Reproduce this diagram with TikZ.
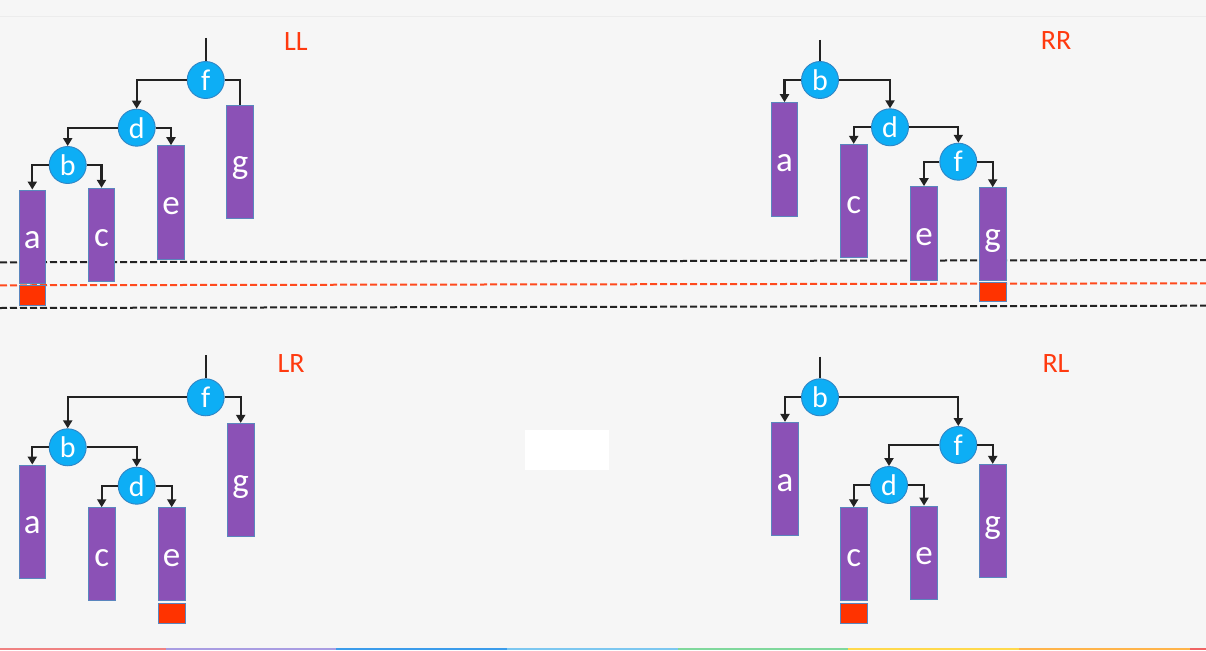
\documentclass[tikz,border=0pt]{standalone}
\usepackage{fontspec}
\setmainfont{Carlito}
\usetikzlibrary{arrows.meta}
\definecolor{bgc}{HTML}{F6F6F6}
\definecolor{topline}{HTML}{ECECEC}
\definecolor{nodeblue}{HTML}{0DAEF5}
\definecolor{nodeborder}{HTML}{2F86C6}
\definecolor{leafpurple}{HTML}{8B51B6}
\definecolor{leafborder}{HTML}{5A86BE}
\definecolor{redbox}{HTML}{FF3300}
\definecolor{labelred}{HTML}{FF3A0F}
\definecolor{dashred}{HTML}{FF4A1E}
\definecolor{edgec}{HTML}{222222}
\definecolor{s1}{HTML}{F08282}
\definecolor{s2}{HTML}{A99DE2}
\definecolor{s3}{HTML}{3C9CEB}
\definecolor{s4}{HTML}{7CC7F0}
\definecolor{s5}{HTML}{80D89C}
\definecolor{s6}{HTML}{FFD94C}
\definecolor{s7}{HTML}{FFB44A}
\definecolor{s8}{HTML}{F06464}
\tikzset{
  inode/.style={circle, fill=nodeblue, draw=nodeborder, line width=0.9pt, minimum size=37pt, inner sep=0pt, text=white, font=\fontsize{30}{30}\selectfont},
  leaf/.style={rectangle, fill=leafpurple, draw=leafborder, line width=0.9pt, minimum width=26.7pt, inner sep=0pt, text=white, text height=24pt, text depth=0pt, font=\fontsize{35}{35}\selectfont},
  tallleaf/.style={leaf, minimum height=113.3pt},
  shortleaf/.style={leaf, minimum height=93pt},
  redsq/.style={rectangle, fill=redbox, draw=leafborder, line width=0.9pt, minimum width=26.7pt, minimum height=20pt, inner sep=0pt},
  caselabel/.style={text=labelred, inner sep=0pt, font=\fontsize{28}{28}\selectfont},
  edge/.style={draw=edgec, line width=2.2pt, -{Triangle[length=8pt,width=9pt]}},
  plainedge/.style={draw=edgec, line width=2.2pt},
  levelline/.style={line width=2pt, dash pattern=on 7pt off 3pt}
}
\begin{document}
\begin{tikzpicture}[x=1pt,y=-1pt]
\fill[bgc] (0,0) rectangle (1206,650);
\useasboundingbox (0,0) rectangle (1206,650);
\draw[topline, line width=1.5pt] (0,16.5) -- (1206,16.5);
% colour strip
\fill[s1] (0,647.5) rectangle (166,650);
\fill[s2] (166,647.5) rectangle (336,650);
\fill[s3] (336,647.5) rectangle (507,650);
\fill[s4] (507,647.5) rectangle (678,650);
\fill[s5] (678,647.5) rectangle (848,650);
\fill[s6] (848,647.5) rectangle (1019,650);
\fill[s7] (1019,647.5) rectangle (1190,650);
\fill[s8] (1190,647.5) rectangle (1206,650);
% white box
\fill[white] (525,430) rectangle (609,470);
% level lines
\coordinate (l1a) at (0,262.3); \coordinate (l1b) at (1206,260);
\coordinate (l2a) at (0,285.3); \coordinate (l2b) at (1206,283.3);
\coordinate (l3a) at (0,308); \coordinate (l3b) at (1206,305.7);
\draw[levelline, edgec] (l1a) -- (l1b);
\draw[levelline, dashred] (l2a) -- (l2b);
\draw[levelline, edgec] (l3a) -- (l3b);

% ---------- LL ----------
\node[caselabel] (LLlab) at (296,42) {LL};
\coordinate (LLtop) at (205.7,38);
\node[inode] (LLf) at (205.7,80) {f};
\node[inode] (LLd) at (136.7,127.7) {d};
\node[inode] (LLb) at (67.7,165) {b};
\node[shortleaf] (LLa) at (32.3,236.5) {a};
\node[shortleaf] (LLc) at (101.5,234.8) {c};
\node[tallleaf] (LLe) at (171,202.3) {e};
\node[tallleaf] (LLg) at (240,161.7) {g};
\node[redsq] (LLr) at (32.3,295) {};
\draw[plainedge] (LLtop) -- (LLf.north);
\draw[edge] (LLf.west) -| (LLd.north);
\draw[plainedge] (LLf.east) -| (LLg.north);
\draw[edge] (LLd.west) -| (LLb.north);
\draw[edge] (LLd.east) -| (LLe.north);
\draw[edge] (LLb.west) -| (LLa.north);
\draw[edge] (LLb.east) -| (LLc.north);

% ---------- RR ----------
\node[caselabel] (RRlab) at (1056,41) {RR};
\coordinate (RRtop) at (820,40);
\node[inode] (RRb) at (820,80) {b};
\node[inode] (RRd) at (890,127.3) {d};
\node[inode] (RRf) at (958.3,161.7) {f};
\node[tallleaf] (RRa) at (784.5,159.3) {a};
\node[tallleaf] (RRc) at (853.7,201) {c};
\node[leaf, minimum height=93.3pt] (RRe) at (924,233.3) {e};
\node[shortleaf] (RRg) at (992.7,234.2) {g};
\node[redsq, minimum height=19.4pt] (RRr) at (992.7,292) {};
\draw[plainedge] (RRtop) -- (RRb.north);
\draw[edge] (RRb.west) -| (RRa.north);
\draw[edge] (RRb.east) -| (RRd.north);
\draw[edge] (RRd.west) -| (RRc.north);
\draw[edge] (RRd.east) -| (RRf.north);
\draw[edge] (RRf.west) -| (RRe.north);
\draw[edge] (RRf.east) -| (RRg.north);

% ---------- LR ----------
\node[caselabel] (LRlab) at (291,364) {LR};
\coordinate (LRtop) at (205.7,355);
\node[inode] (LRf) at (205.7,397.3) {f};
\node[inode] (LRb) at (67.7,447.3) {b};
\node[inode] (LRd) at (136.7,485.7) {d};
\node[tallleaf] (LRa) at (32.3,521.7) {a};
\node[shortleaf] (LRc) at (101.7,554.2) {c};
\node[shortleaf] (LRe) at (171.7,554.2) {e};
\node[tallleaf] (LRg) at (240.7,480) {g};
\node[redsq] (LRr) at (171.7,613.3) {};
\draw[plainedge] (LRtop) -- (LRf.north);
\draw[edge] (LRf.west) -| (LRb.north);
\draw[edge] (LRf.east) -| (LRg.north);
\draw[edge] (LRb.west) -| (LRa.north);
\draw[edge] (LRb.east) -| (LRd.north);
\draw[edge] (LRd.west) -| (LRc.north);
\draw[edge] (LRd.east) -| (LRe.north);

% ---------- RL ----------
\node[caselabel] (RLlab) at (1056,364) {RL};
\coordinate (RLtop) at (820,356.7);
\node[inode] (RLb) at (820,397.3) {b};
\node[inode] (RLf) at (958.3,445) {f};
\node[inode] (RLd) at (889,485) {d};
\node[tallleaf] (RLa) at (785,479) {a};
\node[shortleaf] (RLc) at (853.7,554.2) {c};
\node[leaf, minimum height=93.3pt] (RLe) at (924,552.7) {e};
\node[tallleaf] (RLg) at (992.7,521) {g};
\node[redsq] (RLr) at (853.7,613.3) {};
\draw[plainedge] (RLtop) -- (RLb.north);
\draw[edge] (RLb.west) -| (RLa.north);
\draw[edge] (RLb.east) -| (RLf.north);
\draw[edge] (RLf.west) -| (RLd.north);
\draw[edge] (RLf.east) -| (RLg.north);
\draw[edge] (RLd.west) -| (RLc.north);
\draw[edge] (RLd.east) -| (RLe.north);
\end{tikzpicture}
\end{document}
